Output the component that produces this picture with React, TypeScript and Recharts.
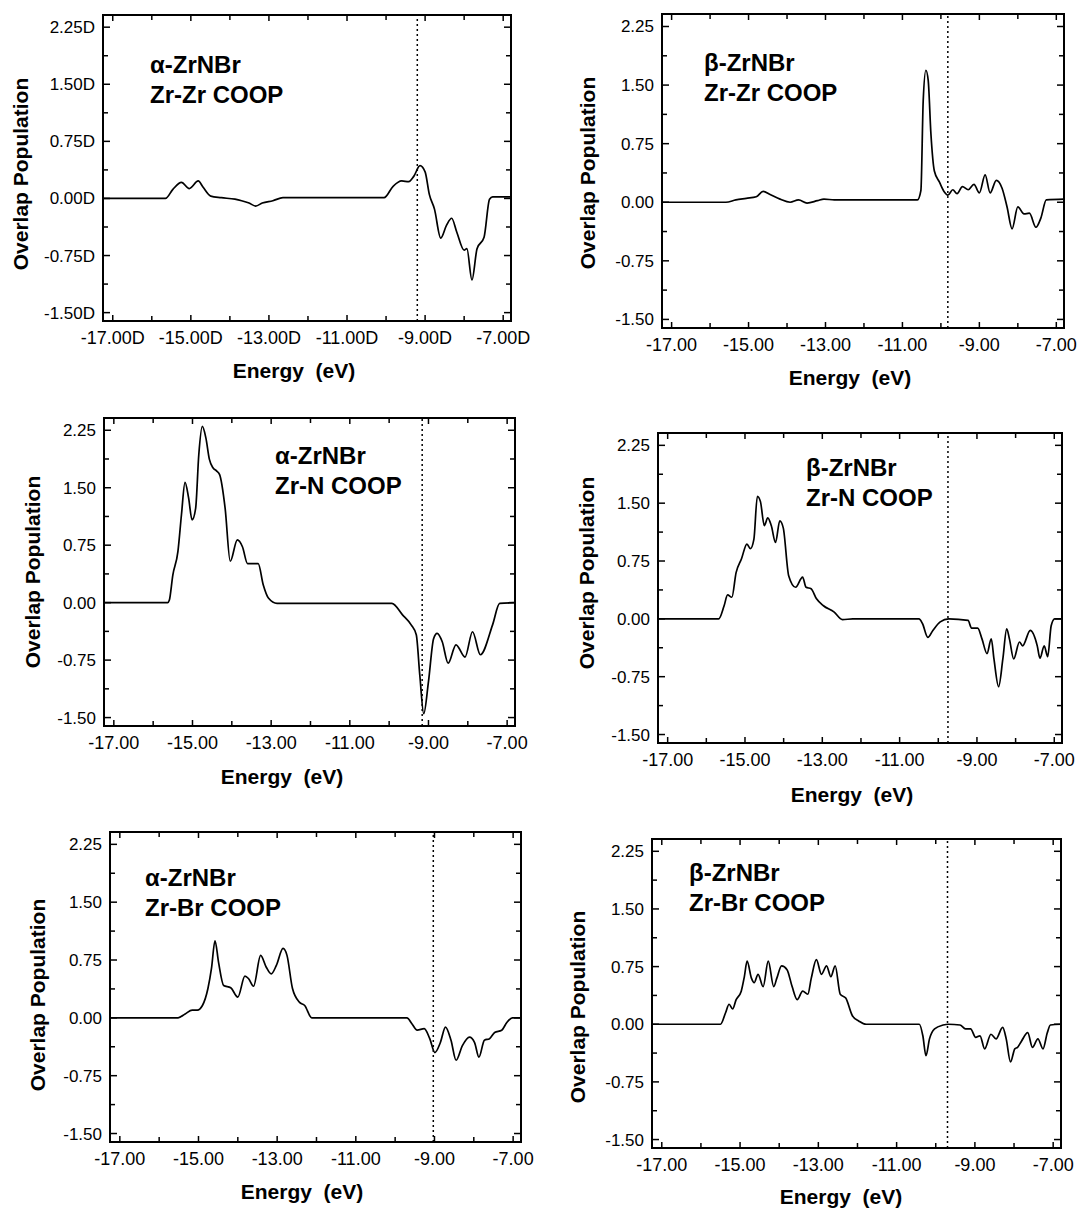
import React from 'react';
import { LineChart, Line, XAxis, YAxis, ReferenceLine } from 'recharts';

const FONT = "'Liberation Sans', Arial, Helvetica, sans-serif";

const X_MIN = -17.25;
const X_MAX = -6.8;
const Y_MIN = -1.61;
const Y_MAX = 2.41;
const xTicks = [-17, -16, -15, -14, -13, -12, -11, -10, -9, -8, -7];
const xLabeledTicks = [-17, -15, -13, -11, -9, -7];
const yTicks = [-1.5, -1.125, -0.75, -0.375, 0, 0.375, 0.75, 1.125, 1.5, 1.875, 2.25];
const yLabeledTicks = [-1.5, -0.75, 0, 0.75, 1.5, 2.25];

// alpha-ZrNBr Zr-Zr COOP
const aZrZrE = [-17.25, -15.65, -15.46, -15.24, -15.04, -14.81, -14.69, -14.49, -14.22, -13.87, -13.7, -13.51, -13.34, -13.17, -12.9, -12.64, -10.9, -10.05, -9.82, -9.6, -9.42, -9.29, -9.13, -9.0, -8.89, -8.76, -8.6, -8.45, -8.32, -8.19, -8.0, -7.93, -7.8, -7.67, -7.49, -7.35, -7.27, -6.8];
const aZrZrV = [0, 0, 0.12, 0.21, 0.13, 0.23, 0.15, 0.03, 0.01, -0.01, -0.03, -0.06, -0.1, -0.06, -0.03, 0.01, 0.01, 0.01, 0.16, 0.23, 0.22, 0.29, 0.43, 0.35, 0.05, -0.14, -0.52, -0.35, -0.26, -0.44, -0.68, -0.66, -1.07, -0.66, -0.51, -0.01, 0.02, 0.02];
const aZrZrFermi = -9.2;

// beta-ZrNBr Zr-Zr COOP
const bZrZrE = [-17.25, -15.59, -15.33, -15.06, -14.8, -14.62, -14.44, -14.18, -13.92, -13.7, -13.48, -13.21, -13.04, -12.77, -10.61, -10.52, -10.46, -10.39, -10.33, -10.26, -10.17, -10.04, -9.91, -9.82, -9.69, -9.58, -9.44, -9.29, -9.14, -9.0, -8.85, -8.72, -8.56, -8.41, -8.28, -8.15, -8.0, -7.84, -7.7, -7.53, -7.4, -7.26, -6.8];
const bZrZrV = [0, 0, 0.03, 0.05, 0.07, 0.14, 0.1, 0.04, 0.0, 0.03, -0.01, 0.02, 0.04, 0.03, 0.03, 0.15, 1.3, 1.69, 1.56, 0.88, 0.4, 0.26, 0.13, 0.09, 0.16, 0.11, 0.2, 0.16, 0.23, 0.12, 0.35, 0.12, 0.28, 0.18, -0.06, -0.34, -0.06, -0.15, -0.14, -0.32, -0.2, 0.03, 0.04];
const bZrZrFermi = -9.82;

// alpha-ZrNBr Zr-N COOP
const aZrNE = [-17.25, -15.63, -15.59, -15.5, -15.37, -15.28, -15.19, -15.1, -15.01, -14.92, -14.84, -14.75, -14.66, -14.57, -14.48, -14.39, -14.31, -14.17, -14.04, -13.86, -13.73, -13.6, -13.47, -13.33, -13.2, -13.07, -12.85, -9.93, -9.66, -9.44, -9.31, -9.22, -9.12, -9.0, -8.87, -8.78, -8.65, -8.5, -8.3, -8.07, -7.88, -7.68, -7.37, -7.19, -6.8];
const aZrNV = [0, 0, 0.03, 0.36, 0.67, 1.15, 1.57, 1.37, 1.08, 1.23, 1.93, 2.3, 2.15, 1.87, 1.76, 1.72, 1.67, 1.23, 0.54, 0.82, 0.73, 0.51, 0.51, 0.51, 0.23, 0.06, -0.01, -0.01, -0.16, -0.29, -0.42, -0.95, -1.45, -1.03, -0.47, -0.4, -0.51, -0.79, -0.55, -0.71, -0.38, -0.68, -0.29, -0.01, 0];
const aZrNFermi = -9.16;

// beta-ZrNBr Zr-N COOP
const bZrNE = [-17.25, -15.68, -15.54, -15.45, -15.34, -15.23, -15.09, -14.95, -14.86, -14.77, -14.68, -14.6, -14.5, -14.41, -14.32, -14.21, -14.1, -14.01, -13.87, -13.69, -13.51, -13.42, -13.29, -13.15, -12.97, -12.7, -12.48, -12.21, -10.5, -10.41, -10.27, -10.14, -9.95, -9.73, -9.23, -9.14, -8.98, -8.87, -8.74, -8.63, -8.56, -8.44, -8.33, -8.23, -8.16, -8.05, -7.9, -7.82, -7.62, -7.44, -7.37, -7.26, -7.17, -7.08, -6.99, -6.8];
const bZrNV = [0, 0, 0.17, 0.31, 0.28, 0.6, 0.78, 0.97, 0.91, 1.03, 1.59, 1.52, 1.21, 1.31, 1.21, 0.99, 1.27, 1.18, 0.56, 0.41, 0.54, 0.41, 0.39, 0.26, 0.17, 0.09, -0.01, 0, 0, -0.06, -0.24, -0.15, -0.04, 0, -0.02, -0.12, -0.12, -0.26, -0.45, -0.26, -0.52, -0.88, -0.52, -0.13, -0.26, -0.52, -0.3, -0.35, -0.15, -0.35, -0.51, -0.35, -0.49, -0.09, 0, 0];
const bZrNFermi = -9.75;

// alpha-ZrNBr Zr-Br COOP
const aZrBrE = [-17.25, -15.52, -15.34, -15.16, -15.03, -14.9, -14.76, -14.67, -14.58, -14.49, -14.36, -14.18, -14.0, -13.82, -13.73, -13.6, -13.42, -13.28, -13.15, -13.02, -12.85, -12.75, -12.61, -12.43, -12.3, -12.12, -9.7, -9.57, -9.44, -9.26, -9.12, -8.99, -8.85, -8.72, -8.58, -8.45, -8.29, -8.11, -7.98, -7.87, -7.73, -7.6, -7.47, -7.29, -7.16, -7.02, -6.8];
const aZrBrV = [0, 0, 0.05, 0.1, 0.1, 0.16, 0.38, 0.64, 1.0, 0.72, 0.42, 0.39, 0.27, 0.54, 0.51, 0.41, 0.81, 0.66, 0.57, 0.68, 0.9, 0.81, 0.38, 0.2, 0.16, 0, 0, -0.08, -0.16, -0.14, -0.27, -0.45, -0.32, -0.12, -0.29, -0.55, -0.36, -0.25, -0.32, -0.51, -0.29, -0.27, -0.19, -0.16, -0.06, 0, 0];
const aZrBrFermi = -9.03;

// beta-ZrNBr Zr-Br COOP
const bZrBrE = [-17.25, -15.5, -15.37, -15.28, -15.19, -15.1, -14.97, -14.89, -14.82, -14.71, -14.64, -14.54, -14.41, -14.28, -14.14, -14.06, -13.94, -13.8, -13.67, -13.54, -13.4, -13.27, -13.18, -13.05, -12.92, -12.79, -12.68, -12.57, -12.44, -12.3, -12.13, -11.96, -11.78, -10.42, -10.33, -10.25, -10.16, -10.03, -9.81, -9.68, -9.38, -9.24, -9.11, -8.98, -8.87, -8.75, -8.59, -8.46, -8.29, -8.2, -8.09, -7.98, -7.91, -7.81, -7.65, -7.53, -7.39, -7.26, -7.15, -7.07, -6.8];
const bZrBrV = [0, 0, 0.15, 0.26, 0.2, 0.32, 0.43, 0.62, 0.82, 0.6, 0.54, 0.65, 0.49, 0.82, 0.49, 0.6, 0.76, 0.71, 0.49, 0.32, 0.43, 0.39, 0.6, 0.84, 0.65, 0.76, 0.62, 0.76, 0.39, 0.34, 0.11, 0.04, 0, 0, -0.15, -0.41, -0.19, -0.06, -0.01, 0, -0.01, -0.06, -0.06, -0.17, -0.15, -0.32, -0.13, -0.19, -0.04, -0.19, -0.49, -0.32, -0.3, -0.22, -0.11, -0.3, -0.19, -0.32, -0.11, -0.01, 0];
const bZrBrFermi = -9.7;

const titles = [
  ['\u03b1-ZrNBr', 'Zr-Zr COOP'],
  ['\u03b2-ZrNBr', 'Zr-Zr COOP'],
  ['\u03b1-ZrNBr', 'Zr-N COOP'],
  ['\u03b2-ZrNBr', 'Zr-N COOP'],
  ['\u03b1-ZrNBr', 'Zr-Br COOP'],
  ['\u03b2-ZrNBr', 'Zr-Br COOP'],
];
const suffixes = ['D', '', '', '', '', ''];
const yAxisTitle = 'Overlap Population';
const xAxisTitle = 'Energy\u00a0\u00a0(eV)';

const series = [
  { e: aZrZrE, v: aZrZrV, f: aZrZrFermi },
  { e: bZrZrE, v: bZrZrV, f: bZrZrFermi },
  { e: aZrNE, v: aZrNV, f: aZrNFermi },
  { e: bZrNE, v: bZrNV, f: bZrNFermi },
  { e: aZrBrE, v: aZrBrV, f: aZrBrFermi },
  { e: bZrBrE, v: bZrBrV, f: bZrBrFermi },
];

// layout: plot box (left, top, width, height), title anchor, y-title center, x-title center
const layout = [
  { box: [103, 15, 408, 306], title: [150, 50], yt: [21, 174], xt: [294, 371] },
  { box: [662, 14, 402, 314], title: [704, 48], yt: [588, 173], xt: [850, 378] },
  { box: [104, 418, 411, 308], title: [275, 441], yt: [33, 572], xt: [282, 777] },
  { box: [658, 433, 404, 310], title: [806, 453], yt: [587, 573], xt: [852, 795] },
  { box: [110, 832, 411, 310], title: [145, 863], yt: [38, 995], xt: [302, 1192] },
  { box: [652, 839, 409, 309], title: [689, 858], yt: [578, 1007], xt: [841, 1197] },
];

const YW = 70;
const MT = 10;
const MR = 40;
const XH = 40;

const fmt = (v: number) => (Math.abs(v) < 1e-9 ? '0.00' : v.toFixed(2));

function Panel({ idx }: { idx: number }) {
  const s = series[idx];
  const L = layout[idx];
  const [bl, bt, bw, bh] = L.box;
  const suffix = suffixes[idx];
  const W = bw + YW + MR;
  const H = bh + MT + XH;
  const plotLeft = YW;
  const plotRight = YW + bw;
  const plotTop = MT;
  const plotBottom = MT + bh;
  const data = s.e.map((e, i) => ({ e, v: s.v[i] }));

  const XTick = (p: any) => {
    const val = p.payload.value;
    const labeled = xLabeledTicks.includes(val);
    const len = labeled ? 6 : 5;
    return (
      <g>
        <line x1={p.x} x2={p.x} y1={plotBottom} y2={plotBottom - len} stroke="#000" strokeWidth={1.5} />
        <line x1={p.x} x2={p.x} y1={plotTop} y2={plotTop + len} stroke="#000" strokeWidth={1.5} />
        {labeled && (
          <text x={p.x} y={plotBottom + 23} textAnchor="middle" fontSize={18} fontFamily={FONT} fill="#000">
            {fmt(val) + suffix}
          </text>
        )}
      </g>
    );
  };

  const YTick = (p: any) => {
    const val = p.payload.value;
    const labeled = yLabeledTicks.includes(val);
    const len = labeled ? 7 : 5;
    return (
      <g>
        <line x1={plotLeft} x2={plotLeft + len} y1={p.y} y2={p.y} stroke="#000" strokeWidth={1.5} />
        <line x1={plotRight} x2={plotRight - len} y1={p.y} y2={p.y} stroke="#000" strokeWidth={1.5} />
        {labeled && (
          <text x={plotLeft - 8} y={p.y + 6} textAnchor="end" fontSize={17} fontFamily={FONT} fill="#000">
            {fmt(val) + suffix}
          </text>
        )}
      </g>
    );
  };

  return (
    <>
      <div style={{ position: 'absolute', left: bl - YW, top: bt - MT }}>
        <LineChart width={W} height={H} data={data} margin={{ top: MT, right: MR, bottom: 0, left: 0 }}>
          <XAxis
            type="number"
            dataKey="e"
            domain={[X_MIN, X_MAX]}
            ticks={xTicks}
            interval={0}
            height={XH}
            tick={XTick}
            tickLine={false}
            axisLine={false}
            allowDataOverflow
          />
          <YAxis
            type="number"
            domain={[Y_MIN, Y_MAX]}
            ticks={yTicks}
            interval={0}
            width={YW}
            tick={YTick}
            tickLine={false}
            axisLine={false}
            allowDataOverflow
          />
          <ReferenceLine x={s.f} stroke="#000" strokeWidth={1.5} strokeDasharray="2 3" />
          <Line type="monotone" dataKey="v" stroke="#000" strokeWidth={1.7} dot={false} isAnimationActive={false} />
        </LineChart>
      </div>
      <div
        style={{
          position: 'absolute',
          left: bl - 1,
          top: bt - 1,
          width: bw + 2,
          height: bh + 2,
          boxSizing: 'border-box',
          border: '2px solid #000',
          pointerEvents: 'none',
        }}
      />
      <div
        style={{
          position: 'absolute',
          left: L.title[0],
          top: L.title[1],
          fontFamily: FONT,
          fontWeight: 'bold',
          fontSize: 24,
          lineHeight: '30px',
          whiteSpace: 'nowrap',
          color: '#000',
        }}
      >
        <div>{titles[idx][0]}</div>
        <div>{titles[idx][1]}</div>
      </div>
      <div
        style={{
          position: 'absolute',
          left: L.yt[0] - 150,
          top: L.yt[1] - 12,
          width: 300,
          height: 24,
          lineHeight: '24px',
          textAlign: 'center',
          transform: 'rotate(-90deg)',
          transformOrigin: 'center',
          fontFamily: FONT,
          fontWeight: 'bold',
          fontSize: 21,
          whiteSpace: 'nowrap',
          color: '#000',
        }}
      >
        {yAxisTitle}
      </div>
      <div
        style={{
          position: 'absolute',
          left: L.xt[0] - 150,
          top: L.xt[1] - 12,
          width: 300,
          height: 24,
          lineHeight: '24px',
          textAlign: 'center',
          fontFamily: FONT,
          fontWeight: 'bold',
          fontSize: 21,
          whiteSpace: 'nowrap',
          color: '#000',
        }}
      >
        {xAxisTitle}
      </div>
    </>
  );
}

export default function App() {
  return (
    <div style={{ position: 'absolute', left: 0, top: 0, width: 1080, height: 1211, background: '#fff', overflow: 'hidden' }}>
      {series.map((_, i) => (
        <Panel key={i} idx={i} />
      ))}
    </div>
  );
}
